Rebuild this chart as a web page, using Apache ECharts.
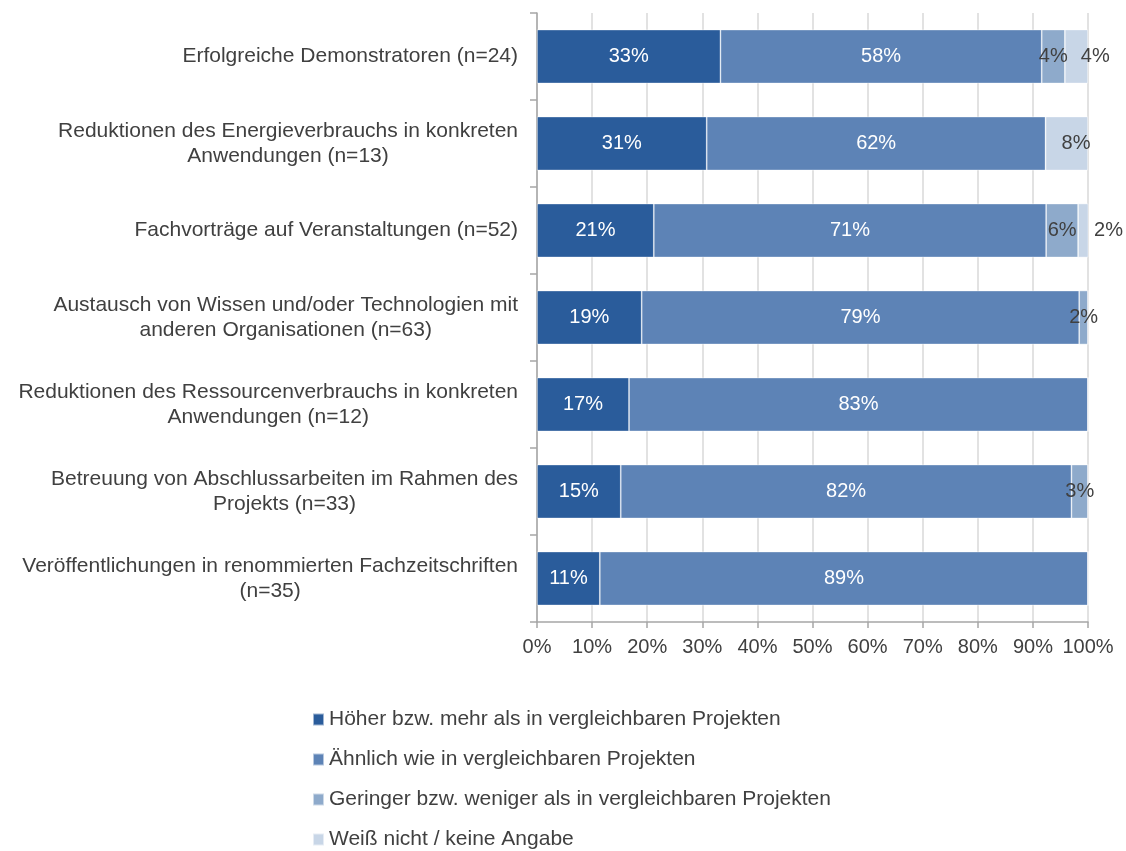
<!DOCTYPE html>
<html>
<head>
<meta charset="utf-8">
<script src="https://cdn.jsdelivr.net/npm/echarts@6/dist/echarts.min.js"></script>
<style>
  html, body { margin: 0; padding: 0; background: #fff; }
  #chart { width: 1126px; height: 851px; }
</style>
</head>
<body>
<div id="chart"></div>
<script>
// Categories, top to bottom
const categories = [
  'Erfolgreiche Demonstratoren (n=24)',
  'Reduktionen des Energieverbrauchs in konkreten\nAnwendungen (n=13)',
  'Fachvorträge auf Veranstaltungen (n=52)',
  'Austausch von Wissen und/oder Technologien mit\nanderen Organisationen (n=63)',
  'Reduktionen des Ressourcenverbrauchs in konkreten\nAnwendungen (n=12)',
  'Betreuung von Abschlussarbeiten im Rahmen des\nProjekts (n=33)',
  'Veröffentlichungen in renommierten Fachzeitschriften\n(n=35)'
];

const seriesNames = [
  'Höher bzw. mehr als in vergleichbaren Projekten',
  'Ähnlich wie in vergleichbaren Projekten',
  'Geringer bzw. weniger als in vergleichbaren Projekten',
  'Weiß nicht / keine Angabe'
];

// Shares in percent
const hoeher     = [33.3, 30.8, 21.2, 19.0, 16.7, 15.2, 11.4];
const aehnlich   = [58.3, 61.5, 71.2, 79.4, 83.3, 81.8, 88.6];
const geringer   = [4.2,  0,    5.8,  1.6,  0,    3.0,  0];
const weissNicht = [4.2,  7.7,  1.9,  0,    0,    0,    0];

const xTicks = [0, 10, 20, 30, 40, 50, 60, 70, 80, 90, 100];

const colors = ['#2a5c9b', '#5d83b6', '#8eaacb', '#c8d6e7'];
const FONT = '"Liberation Sans", Arial, sans-serif';
const TEXT = '#404040';
const AXIS = '#a6a6a6';

const chart = echarts.init(document.getElementById('chart'), null, { renderer: 'canvas' });

function pctLabel(p) {
  return p.value > 0 ? Math.round(p.value) + '%' : '';
}

function makeSeries(idx, data, labelCfg) {
  return {
    name: seriesNames[idx],
    type: 'bar',
    stack: 'total',
    barCategoryGap: '38%',
    data: data,
    itemStyle: { color: colors[idx], borderColor: 'rgba(255,255,255,0.55)', borderWidth: 0.75 },
    label: Object.assign({
      show: true,
      fontFamily: FONT,
      fontSize: 20,
      formatter: pctLabel
    }, labelCfg)
  };
}

chart.setOption({
  animation: false,
  textStyle: { fontFamily: FONT },
  grid: { left: 537, right: 38, top: 13, bottom: 229, containLabel: false },
  legend: {
    orient: 'vertical',
    left: 307,
    top: 704,
    height: 200,
    icon: 'rect',
    itemWidth: 11,
    itemHeight: 12,
    itemGap: 19,
    textStyle: { fontFamily: FONT, fontSize: 21, color: TEXT },
    data: seriesNames
  },
  xAxis: {
    type: 'value',
    min: xTicks[0],
    max: xTicks[xTicks.length - 1],
    interval: 10,
    axisLine: { show: true, lineStyle: { color: AXIS, width: 1.5 } },
    axisTick: { show: true, length: 6, lineStyle: { color: AXIS, width: 1.5 } },
    splitLine: { show: true, lineStyle: { color: '#d9d9d9', width: 1.5 } },
    axisLabel: {
      color: TEXT, fontFamily: FONT, fontSize: 20, margin: 15,
      formatter: v => v + '%'
    }
  },
  yAxis: {
    type: 'category',
    inverse: true,
    data: categories,
    axisLine: { show: true, lineStyle: { color: AXIS, width: 1.5 } },
    axisTick: { show: true, length: 7, lineStyle: { color: AXIS, width: 1.5 } },
    axisLabel: {
      color: TEXT, fontFamily: FONT, fontSize: 21, margin: 19,
      lineHeight: 25, align: 'right',
      formatter: v => v.split('\n').map(l => '{c|' + l + '}').join('\n'),
      rich: { c: { align: 'center', fontFamily: FONT, fontSize: 21, color: TEXT, lineHeight: 25 } }
    }
  },
  series: [
    makeSeries(0, hoeher, { position: 'inside', color: '#fff' }),
    makeSeries(1, aehnlich, { position: 'inside', color: '#fff' }),
    makeSeries(2, geringer, { position: 'inside', color: TEXT }),
    makeSeries(3, weissNicht, { position: 'insideLeft', offset: [11, 0], color: TEXT })
  ]
});
</script>
</body>
</html>
